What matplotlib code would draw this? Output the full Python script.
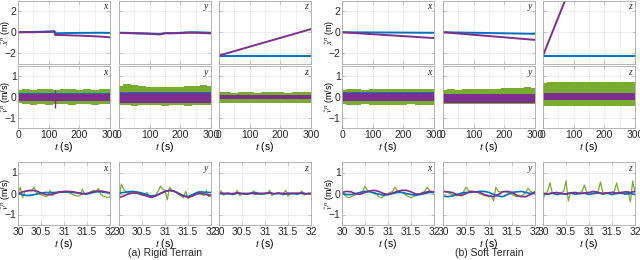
import matplotlib
matplotlib.use("Agg")
import matplotlib.pyplot as plt
from matplotlib.ticker import MultipleLocator
import numpy as np

plt.rcParams['font.family'] = ['Liberation Sans', 'DejaVu Sans']
plt.rcParams['mathtext.fontset'] = 'stix'

BLUE = '#0072BD'
PURPLE = '#7E2F8E'
GREEN = '#77AC30'

# ---------------- row 1: position estimate (m), t in s ----------------
rig_x_blue_t = [0, 25, 50, 75, 100, 119, 121, 150, 175, 200, 225, 250, 275, 300]
rig_x_blue = [0.0, 0.02, 0.03, 0.05, 0.08, 0.1, -0.1, -0.08, -0.07, -0.06, -0.06, -0.05, -0.05, -0.06]
rig_x_purple_t = [0, 25, 50, 75, 100, 119, 121, 150, 175, 200, 225, 250, 275, 300]
rig_x_purple = [0.0, 0.0, 0.0, 0.02, 0.03, 0.05, -0.25, -0.27, -0.3, -0.32, -0.35, -0.38, -0.42, -0.48]
rig_y_blue_t = [0, 25, 50, 75, 100, 125, 135, 150, 175, 200, 225, 250, 275, 300]
rig_y_blue = [-0.05, -0.05, -0.08, -0.1, -0.12, -0.15, -0.15, -0.08, -0.08, -0.05, 0.0, 0.0, -0.02, -0.05]
rig_y_purple_t = [0, 25, 50, 75, 100, 125, 135, 150, 175, 200, 225, 250, 275, 300]
rig_y_purple = [-0.05, -0.08, -0.1, -0.12, -0.15, -0.2, -0.2, -0.1, -0.1, -0.08, -0.05, -0.05, -0.08, -0.1]
rig_z_blue_t, rig_z_blue = [0, 300], [-2.2, -2.2]
rig_z_purple_t, rig_z_purple = [0, 300], [-2.2, 0.3]
soft_x_blue_t, soft_x_blue = [0, 300], [0.0, -0.05]
soft_x_purple_t, soft_x_purple = [0, 300], [0.0, -0.55]
soft_y_blue_t, soft_y_blue = [0, 300], [0.0, -0.15]
soft_y_purple_t, soft_y_purple = [0, 300], [0.0, -0.72]
soft_z_blue_t, soft_z_blue = [0, 300], [-2.2, -2.2]
soft_z_purple_t, soft_z_purple = [0, 300], [-2.2, 19.5]

# ---------------- row 2: velocity envelopes (m/s) ----------------
t_band = [0, 25, 50, 75, 100, 125, 150, 175, 200, 225, 250, 275, 300]
rig_x_green_hi = [0.35, 0.38, 0.36, 0.37, 0.38, 0.36, 0.37, 0.38, 0.36, 0.37, 0.36, 0.38, 0.37]
rig_x_green_lo = [-0.30, -0.35, -0.37, -0.36, -0.38, -0.35, -0.36, -0.37, -0.35, -0.36, -0.37, -0.35, -0.36]
rig_x_blue_band = (-0.15, 0.2)
rig_x_purple_band = (-0.2, 0.15)
rig_x_spike = (120, -0.55, 0.35)
rig_y_green_hi = [0.55, 0.62, 0.58, 0.55, 0.50, 0.48, 0.50, 0.48, 0.50, 0.52, 0.55, 0.58, 0.55]
rig_y_green_lo = [-0.38, -0.40, -0.42, -0.40, -0.41, -0.40, -0.42, -0.40, -0.41, -0.42, -0.40, -0.40, -0.41]
rig_y_blue_band = (-0.25, 0.22)
rig_y_purple_band = (-0.3, 0.17)
rig_z_green_hi = [0.22, 0.22, 0.21, 0.23, 0.22, 0.21, 0.22, 0.23, 0.22, 0.21, 0.22, 0.23, 0.22]
rig_z_green_lo = [-0.28, -0.30, -0.29, -0.30, -0.31, -0.29, -0.30, -0.29, -0.30, -0.31, -0.29, -0.30, -0.29]
rig_z_blue_band = (-0.1, 0.12)
rig_z_purple_band = (-0.12, 0.1)
soft_x_green_hi = [0.35, 0.37, 0.38, 0.36, 0.38, 0.37, 0.39, 0.40, 0.38, 0.39, 0.40, 0.38, 0.39]
soft_x_green_lo = [-0.35, -0.37, -0.38, -0.36, -0.38, -0.37, -0.38, -0.37, -0.38, -0.36, -0.38, -0.37, -0.38]
soft_x_blue_band = (-0.12, 0.22)
soft_x_purple_band = (-0.17, 0.2)
soft_y_green_hi = [0.36, 0.37, 0.36, 0.38, 0.37, 0.38, 0.40, 0.41, 0.43, 0.44, 0.45, 0.46, 0.45]
soft_y_green_lo = [-0.32, -0.33, -0.34, -0.33, -0.32, -0.34, -0.33, -0.34, -0.33, -0.34, -0.33, -0.34, -0.33]
soft_y_blue_band = (-0.2, 0.16)
soft_y_purple_band = (-0.3, 0.13)
soft_z_green_hi = [0.70, 0.72, 0.74, 0.72, 0.73, 0.71, 0.74, 0.72, 0.73, 0.74, 0.72, 0.73, 0.72]
soft_z_green_lo = [-0.42, -0.44, -0.45, -0.43, -0.44, -0.45, -0.44, -0.43, -0.45, -0.44, -0.43, -0.44, -0.45]
soft_z_blue_band = (-0.1, 0.15)
soft_z_purple_band = (-0.15, 0.17)

# ---------------- row 3: zoomed velocity, 30-32 s ----------------
t_fine = [30.0, 30.1, 30.2, 30.3, 30.4, 30.5, 30.6, 30.7, 30.8, 30.9, 31.0,
          31.1, 31.2, 31.3, 31.4, 31.5, 31.6, 31.7, 31.8, 31.9, 32.0]
t_green = [30.0, 30.05, 30.1, 30.15, 30.2, 30.25, 30.3, 30.35, 30.4, 30.45, 30.5,
           30.55, 30.6, 30.65, 30.7, 30.75, 30.8, 30.85, 30.9, 30.95, 31.0,
           31.05, 31.1, 31.15, 31.2, 31.25, 31.3, 31.35, 31.4, 31.45, 31.5,
           31.55, 31.6, 31.65, 31.7, 31.75, 31.8, 31.85, 31.9, 31.95, 32.0]

zr_x_purple = [0.0, 0.08, 0.13, 0.15, 0.12, 0.03, -0.05, -0.06, 0.0, 0.07, 0.1,
               0.1, 0.08, 0.03, -0.02, 0.0, 0.06, 0.11, 0.12, 0.08, 0.03]
zr_x_blue = [0.0, -0.05, -0.1, -0.08, -0.03, 0.02, 0.05, 0.04, 0.05, 0.06, 0.07,
             0.06, 0.05, 0.03, 0.0, -0.02, 0.03, 0.08, 0.08, 0.05, 0.03]
zr_x_green = [0.0, 0.3, -0.2, 0.1, 0.1, 0.15, 0.12, 0.3, 0.05, 0.0, -0.05,
              -0.1, -0.15, -0.1, 0.15, -0.1, 0.0, 0.05, 0.1, 0.05, 0.08,
              0.1, 0.05, 0.0, -0.05, -0.1, -0.12, -0.1, 0.2, -0.05, 0.0,
              0.05, 0.1, 0.15, 0.1, 0.25, -0.05, -0.12, -0.15, -0.2, -0.15]
zr_y_purple = [-0.2, -0.12, -0.02, 0.03, 0.02, -0.05, -0.12, -0.18, -0.12, 0.0, 0.1,
               0.15, 0.1, 0.0, -0.12, -0.18, -0.12, -0.02, 0.0, -0.05, -0.1]
zr_y_blue = [0.02, 0.05, 0.08, 0.1, 0.07, 0.02, -0.05, -0.12, -0.1, 0.0, 0.1,
             0.15, 0.12, 0.0, -0.1, -0.15, -0.05, 0.05, 0.08, 0.05, 0.05]
zr_y_green = [-0.3, 0.45, 0.2, 0.1, 0.05, 0.0, 0.05, 0.0, 0.02, -0.05, -0.08,
              -0.1, 0.05, -0.15, -0.2, -0.15, -0.05, 0.1, 0.35, 0.2, 0.15,
              -0.3, 0.3, 0.15, 0.1, 0.05, -0.05, -0.12, -0.2, 0.1, -0.25,
              -0.15, -0.1, 0.0, 0.05, 0.1, -0.05, -0.1, 0.15, -0.15, -0.1]
zr_z_purple = [0.0, 0.01, -0.02, 0.0, 0.02, -0.01, 0.0, 0.01, -0.02, 0.0, 0.01,
               0.02, -0.01, 0.0, 0.01, -0.02, 0.0, 0.02, 0.0, -0.01, 0.0]
zr_z_blue = [0.03, -0.02, 0.02, -0.05, 0.03, 0.0, -0.04, 0.02, 0.05, -0.03, 0.0,
             0.04, -0.02, 0.03, -0.05, 0.02, 0.0, -0.03, 0.04, -0.02, 0.0]
zr_z_green = [0.0, 0.12, -0.08, 0.0, 0.02, 0.0, -0.02, 0.0, 0.15, -0.1, 0.0,
              0.02, 0.0, -0.02, 0.0, 0.12, -0.05, 0.0, 0.02, 0.0, -0.02,
              0.0, 0.15, -0.1, 0.0, 0.02, 0.0, -0.02, 0.0, 0.15, -0.12,
              0.0, 0.02, 0.0, -0.02, 0.0, 0.12, -0.08, 0.0, 0.02, 0.0]

zs_x_purple = [0.05, 0.1, 0.08, -0.02, -0.03, 0.05, 0.12, 0.15, 0.1, 0.0, -0.05,
               0.02, 0.1, 0.15, 0.15, 0.08, -0.02, -0.03, 0.05, 0.1, 0.08]
zs_x_blue = [0.0, -0.05, -0.05, 0.0, 0.05, 0.1, 0.08, 0.03, -0.03, -0.08, -0.05,
             0.0, 0.05, 0.05, 0.0, -0.05, -0.08, -0.05, 0.0, 0.05, 0.05]
zs_x_green = [0.1, -0.05, -0.15, -0.2, -0.15, -0.1, -0.05, 0.0, 0.05, 0.1, 0.35,
              0.15, 0.1, 0.05, 0.0, -0.05, -0.15, -0.2, -0.15, -0.05, 0.0,
              0.05, 0.1, 0.3, 0.15, 0.1, 0.05, 0.0, -0.1, -0.15, -0.2,
              -0.15, -0.1, -0.05, 0.0, 0.05, 0.1, 0.3, 0.15, 0.05, 0.05]
zs_y_purple = [0.1, 0.08, 0.05, -0.05, -0.1, 0.0, 0.1, 0.08, 0.05, -0.05, -0.12,
               -0.15, -0.05, 0.08, 0.1, 0.05, -0.08, -0.15, -0.15, -0.05, 0.05]
zs_y_blue = [-0.12, -0.15, -0.12, -0.05, 0.02, 0.05, 0.05, 0.08, 0.1, 0.1, 0.05,
             -0.05, -0.12, -0.15, -0.05, 0.05, 0.08, 0.1, 0.05, 0.0, 0.05]
zs_y_green = [0.1, 0.08, 0.05, 0.0, -0.05, -0.08, -0.1, -0.1, -0.05, 0.1, 0.3,
              0.15, 0.1, 0.1, 0.08, 0.05, 0.0, -0.05, -0.1, -0.12, -0.15,
              -0.1, -0.35, 0.3, 0.1, 0.08, 0.1, 0.1, 0.05, 0.0, -0.05,
              -0.1, -0.15, -0.15, -0.12, -0.05, 0.05, 0.25, 0.1, 0.05, 0.1]
zs_z_purple = [0.0, -0.02, 0.02, 0.05, 0.0, -0.03, 0.03, 0.05, 0.0, 0.02, 0.05,
               0.1, 0.05, 0.0, 0.03, 0.05, 0.02, 0.05, 0.08, 0.05, 0.1]
zs_z_blue = [0.0, -0.03, 0.02, -0.05, 0.0, -0.02, 0.03, -0.04, 0.0, 0.02, -0.05,
             0.0, 0.03, -0.02, 0.02, -0.05, 0.0, 0.02, -0.03, 0.0, -0.05]
zs_z_green = [-0.25, 0.0, 0.1, 0.5, 0.05, 0.0, 0.05, 0.0, 0.05, 0.1, 0.6,
              -0.35, 0.05, 0.0, 0.05, 0.0, 0.05, 0.1, 0.4, 0.05, 0.0,
              0.05, 0.0, 0.05, 0.1, 0.55, 0.05, 0.0, 0.05, 0.0, 0.05,
              0.1, 0.5, 0.05, 0.0, 0.05, 0.0, 0.1, -0.4, 0.6, 0.05]

axis_names = ['x', 'y', 'z']

row1 = [
    (rig_x_blue_t, rig_x_blue, rig_x_purple_t, rig_x_purple),
    (rig_y_blue_t, rig_y_blue, rig_y_purple_t, rig_y_purple),
    (rig_z_blue_t, rig_z_blue, rig_z_purple_t, rig_z_purple),
    (soft_x_blue_t, soft_x_blue, soft_x_purple_t, soft_x_purple),
    (soft_y_blue_t, soft_y_blue, soft_y_purple_t, soft_y_purple),
    (soft_z_blue_t, soft_z_blue, soft_z_purple_t, soft_z_purple),
]
row2 = [
    (rig_x_green_lo, rig_x_green_hi, rig_x_blue_band, rig_x_purple_band),
    (rig_y_green_lo, rig_y_green_hi, rig_y_blue_band, rig_y_purple_band),
    (rig_z_green_lo, rig_z_green_hi, rig_z_blue_band, rig_z_purple_band),
    (soft_x_green_lo, soft_x_green_hi, soft_x_blue_band, soft_x_purple_band),
    (soft_y_green_lo, soft_y_green_hi, soft_y_blue_band, soft_y_purple_band),
    (soft_z_green_lo, soft_z_green_hi, soft_z_blue_band, soft_z_purple_band),
]
row3 = [
    (zr_x_green, zr_x_blue, zr_x_purple),
    (zr_y_green, zr_y_blue, zr_y_purple),
    (zr_z_green, zr_z_blue, zr_z_purple),
    (zs_x_green, zs_x_blue, zs_x_purple),
    (zs_y_green, zs_y_blue, zs_y_purple),
    (zs_z_green, zs_z_blue, zs_z_purple),
]

W, H = 640, 260
FS = 7.5
fig = plt.figure(figsize=(6.4, 2.6), dpi=100)

lefts = [18, 119, 219, 342, 443, 543]
pw = 92
rows_px = [(0.5, 64), (66, 128), (162, 225)]


def make_ax(col, row):
    top, bot = rows_px[row]
    ax = fig.add_axes([lefts[col] / W, (H - bot) / H, pw / W, (bot - top) / H])
    for s in ax.spines.values():
        s.set_color('#a8a8a8')
        s.set_linewidth(0.6)
    ax.tick_params(direction='in', length=2, width=0.5, color='#a8a8a8',
                   labelsize=FS, labelcolor='#262626', pad=1.5,
                   top=True, right=True, which='both')
    ax.tick_params(axis='y', pad=1)
    ax.tick_params(which='minor', length=0)
    ax.grid(True, which='both', color='#e8e8e8', linewidth=0.5)
    ax.set_axisbelow(True)
    ax.text(0.97, 0.97, axis_names[col % 3], transform=ax.transAxes,
            ha='right', va='top', fontsize=7, family='Liberation Serif',
            style='italic', color='#262626')
    return ax


def ylab(ax, text):
    ax.set_ylabel(text, fontsize=6.5)
    ax.yaxis.set_label_coords(-0.068, 0.5)


for c in range(6):
    # row 1
    ax = make_ax(c, 0)
    bt, bv, pt, pv = row1[c]
    ax.plot(bt, bv, color=BLUE, lw=1.4)
    ax.plot(pt, pv, color=PURPLE, lw=1.4)
    ax.set_xlim(0, 300)
    ax.set_ylim(-3, 3)
    ax.xaxis.set_major_locator(MultipleLocator(100))
    ax.xaxis.set_minor_locator(MultipleLocator(50))
    ax.yaxis.set_major_locator(MultipleLocator(2))
    ax.set_xticklabels([])
    if c % 3 == 0:
        ylab(ax, r'$\hat{x}^n$ (m)')
    else:
        ax.set_yticklabels([])

    # row 2
    ax = make_ax(c, 1)
    glo, ghi, bb, pb = row2[c]
    ax.fill_between(t_band, glo, ghi, step='mid', color=GREEN, lw=0)
    ax.fill_between(t_band, bb[0], bb[1], color=BLUE, lw=0)
    ax.fill_between(t_band, pb[0], pb[1], color=PURPLE, lw=0)
    if c == 0:
        ax.vlines(rig_x_spike[0], rig_x_spike[1], rig_x_spike[2], color=PURPLE, lw=1.0)
    ax.set_xlim(0, 300)
    ax.set_ylim(-1.5, 1.5)
    ax.xaxis.set_major_locator(MultipleLocator(100))
    ax.xaxis.set_minor_locator(MultipleLocator(50))
    ax.yaxis.set_major_locator(MultipleLocator(1))
    ax.set_xlabel('$t$ (s)', fontsize=FS, labelpad=0)
    if c % 3 == 0:
        ylab(ax, r'$\hat{v}^n$ (m/s)')
    else:
        ax.set_yticklabels([])

    # row 3
    ax = make_ax(c, 2)
    gv, bv, pv = row3[c]
    ax.plot(t_green, gv, color=GREEN, lw=0.9)
    ax.plot(t_fine, bv, color=BLUE, lw=1.2)
    ax.plot(t_fine, pv, color=PURPLE, lw=1.2)
    ax.set_xlim(30, 32)
    ax.set_ylim(-1.5, 1.5)
    ax.yaxis.set_major_locator(MultipleLocator(1))
    ax.set_xticks([30, 30.5, 31, 31.5, 32], ['30', '30.5', '31', '31.5', '32'])
    ax.set_xlabel('$t$ (s)', fontsize=FS, labelpad=0)
    if c % 3 == 0:
        ylab(ax, r'$\hat{v}^n$ (m/s)')
    else:
        ax.set_yticklabels([])

fig.text(165 / W, (H - 253) / H, '(a) Rigid Terrain', ha='center', va='center',
         fontsize=FS, color='#262626')
fig.text(489 / W, (H - 253) / H, '(b) Soft Terrain', ha='center', va='center',
         fontsize=FS, color='#262626')

fig.savefig('out.png', dpi=100)
